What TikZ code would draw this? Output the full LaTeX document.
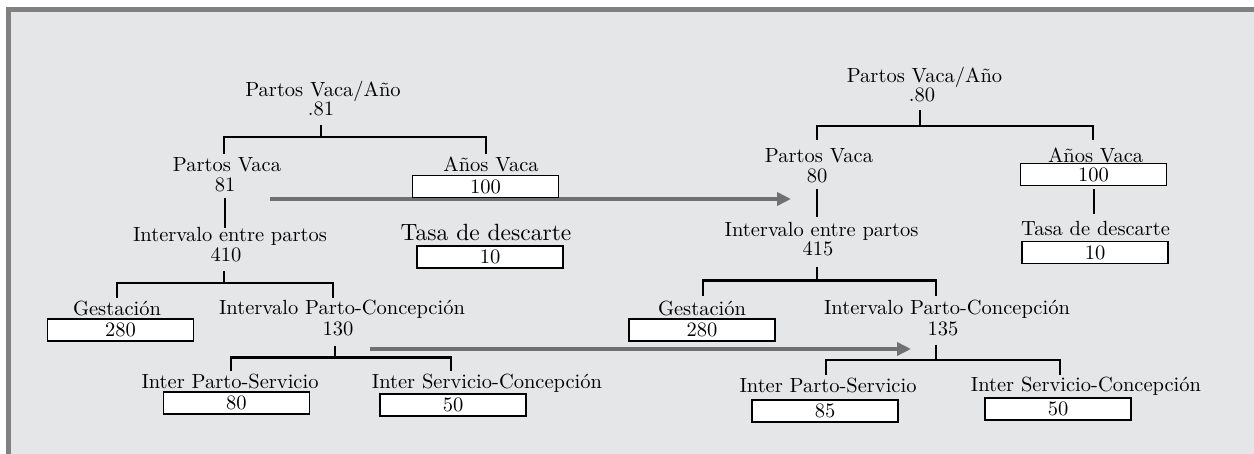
\documentclass[tikz,border=0pt]{standalone}
\usepackage{fontspec}
\setmainfont{lmroman10-regular.otf}
\usetikzlibrary{arrows.meta}
\definecolor{bggray}{HTML}{E5E6E8}
\definecolor{framegray}{HTML}{808082}
\definecolor{arrowgray}{HTML}{707072}
\begin{document}
\begin{tikzpicture}[x=1pt,y=-1pt,
  lbl/.style={inner sep=0pt, text height=13.6pt, text depth=0pt, font=\fontsize{20.5}{20}\selectfont},
  numbox/.style={lbl, draw=black, fill=white, line width=1.4pt, minimum width=146pt, minimum height=22pt},
  biglbl/.style={lbl, font=\fontsize{23.5}{24}\selectfont, text height=16pt},
  tree/.style={line width=2.9pt, black},
  flow/.style={draw=arrowgray, line width=4.5pt, -{Triangle[length=14pt,width=13pt]}}
]
% frame and background
\fill[white] (0,0) rectangle (1254,454);
\fill[bggray] (6,7) rectangle (1254,454);
\fill[framegray] (6,7) rectangle (1254,12);
\fill[framegray] (6,7) rectangle (11,454);
\useasboundingbox (0,0) rectangle (1254,454);

% flow arrows
\coordinate (a1s) at (270,199);
\coordinate (a1e) at (791,199);
\coordinate (a2s) at (370,349);
\coordinate (a2e) at (911,349);
\draw[flow] (a1s) -- (a1e);
\draw[flow] (a2s) -- (a2e);

% left tree
\node[lbl] (lA) at (323,90) {Partos Vaca/Año};
\node[lbl] (lAv) at (321,109) {.81};
\node[lbl] (lB) at (227,165) {Partos Vaca};
\node[lbl] (lBv) at (225,185) {81};
\node[lbl] (lC) at (491,165) {Años Vaca};
\node[numbox] (lCv) at (485.6,186.4) {100};
\node[lbl] (lD) at (230,235) {Intervalo entre partos};
\node[lbl] (lDv) at (226,255) {410};
\node[biglbl] (lE) at (486,233) {Tasa de descarte};
\node[numbox] (lEv) at (490,257) {10};
\node[lbl] (lF) at (117,309) {Gestación};
\node[numbox] (lFv) at (120.6,330) {280};
\node[lbl] (lG) at (342,308) {Intervalo Parto-Concepción};
\node[lbl] (lGv) at (338,329) {130};
\node[lbl] (lH) at (230,382) {Inter Parto-Servicio};
\node[numbox] (lHv) at (236.3,403) {80};
\node[lbl] (lI) at (487,382) {Inter Servicio-Concepción};
\node[numbox] (lIv) at (453,405) {50};

% right tree
\node[lbl] (rA) at (924.5,76) {Partos Vaca/Año};
\node[lbl] (rAv) at (922,95) {.80};
\node[lbl] (rB) at (819,156) {Partos Vaca};
\node[lbl] (rBv) at (817,176) {80};
\node[lbl] (rC) at (1095.6,156) {Años Vaca};
\node[numbox] (rCv) at (1093.4,174.5) {100};
\node[lbl] (rD) at (821.6,230) {Intervalo entre partos};
\node[lbl] (rDv) at (818,249) {415};
\node[lbl] (rE) at (1095.6,229) {Tasa de descarte};
\node[numbox] (rEv) at (1095,252.5) {10};
\node[lbl] (rF) at (702,309) {Gestación};
\node[numbox] (rFv) at (702,330) {280};
\node[lbl] (rG) at (947,308) {Intervalo Parto-Concepción};
\node[lbl] (rGv) at (943,328.5) {135};
\node[lbl] (rH) at (828,386) {Inter Parto-Servicio};
\node[numbox] (rHv) at (825,411) {85};
\node[lbl] (rI) at (1086,385) {Inter Servicio-Concepción};
\node[numbox] (rIv) at (1058,409) {50};

% left connectors
\coordinate (l1s) at (321,125); \coordinate (l1b) at (321,137);
\coordinate (l1a) at (224,154); \coordinate (l1c) at (486,154);
\draw[tree] (l1s) -- (l1b);
\draw[tree] (l1a) -- (l1a|-l1b) -- (l1c|-l1b) -- (l1c);
\coordinate (l2s) at (225,198); \coordinate (l2e) at (225,228);
\draw[tree] (l2s) -- (l2e);
\coordinate (l3s) at (224,271); \coordinate (l3b) at (224,283);
\coordinate (l3a) at (117,298); \coordinate (l3c) at (333,298);
\draw[tree] (l3s) -- (l3b);
\draw[tree] (l3a) -- (l3a|-l3b) -- (l3c|-l3b) -- (l3c);
\coordinate (l4s) at (335,346); \coordinate (l4b) at (335,357.5);
\coordinate (l4a) at (231,371); \coordinate (l4c) at (451,371);
\draw[tree] (l4s) -- (l4b);
\draw[tree] (l4a) -- (l4a|-l4b) -- (l4c|-l4b) -- (l4c);

% right connectors
\coordinate (r1s) at (920,110); \coordinate (r1b) at (920,126);
\coordinate (r1a) at (817,140); \coordinate (r1c) at (1093,140);
\draw[tree] (r1s) -- (r1b);
\draw[tree] (r1a) -- (r1a|-r1b) -- (r1c|-r1b) -- (r1c);
\coordinate (r2s) at (817,189); \coordinate (r2e) at (817,217);
\draw[tree] (r2s) -- (r2e);
\coordinate (r3s) at (1094,189); \coordinate (r3e) at (1094,214);
\draw[tree] (r3s) -- (r3e);
\coordinate (r4s) at (817,267); \coordinate (r4b) at (817,280.5);
\coordinate (r4a) at (703,296); \coordinate (r4c) at (936,296);
\draw[tree] (r4s) -- (r4b);
\draw[tree] (r4a) -- (r4a|-r4b) -- (r4c|-r4b) -- (r4c);
\coordinate (r5s) at (936,345); \coordinate (r5b) at (936,360);
\coordinate (r5a) at (826,375); \coordinate (r5c) at (1060,375);
\draw[tree] (r5s) -- (r5b);
\draw[tree] (r5a) -- (r5a|-r5b) -- (r5c|-r5b) -- (r5c);
\end{tikzpicture}
\end{document}
